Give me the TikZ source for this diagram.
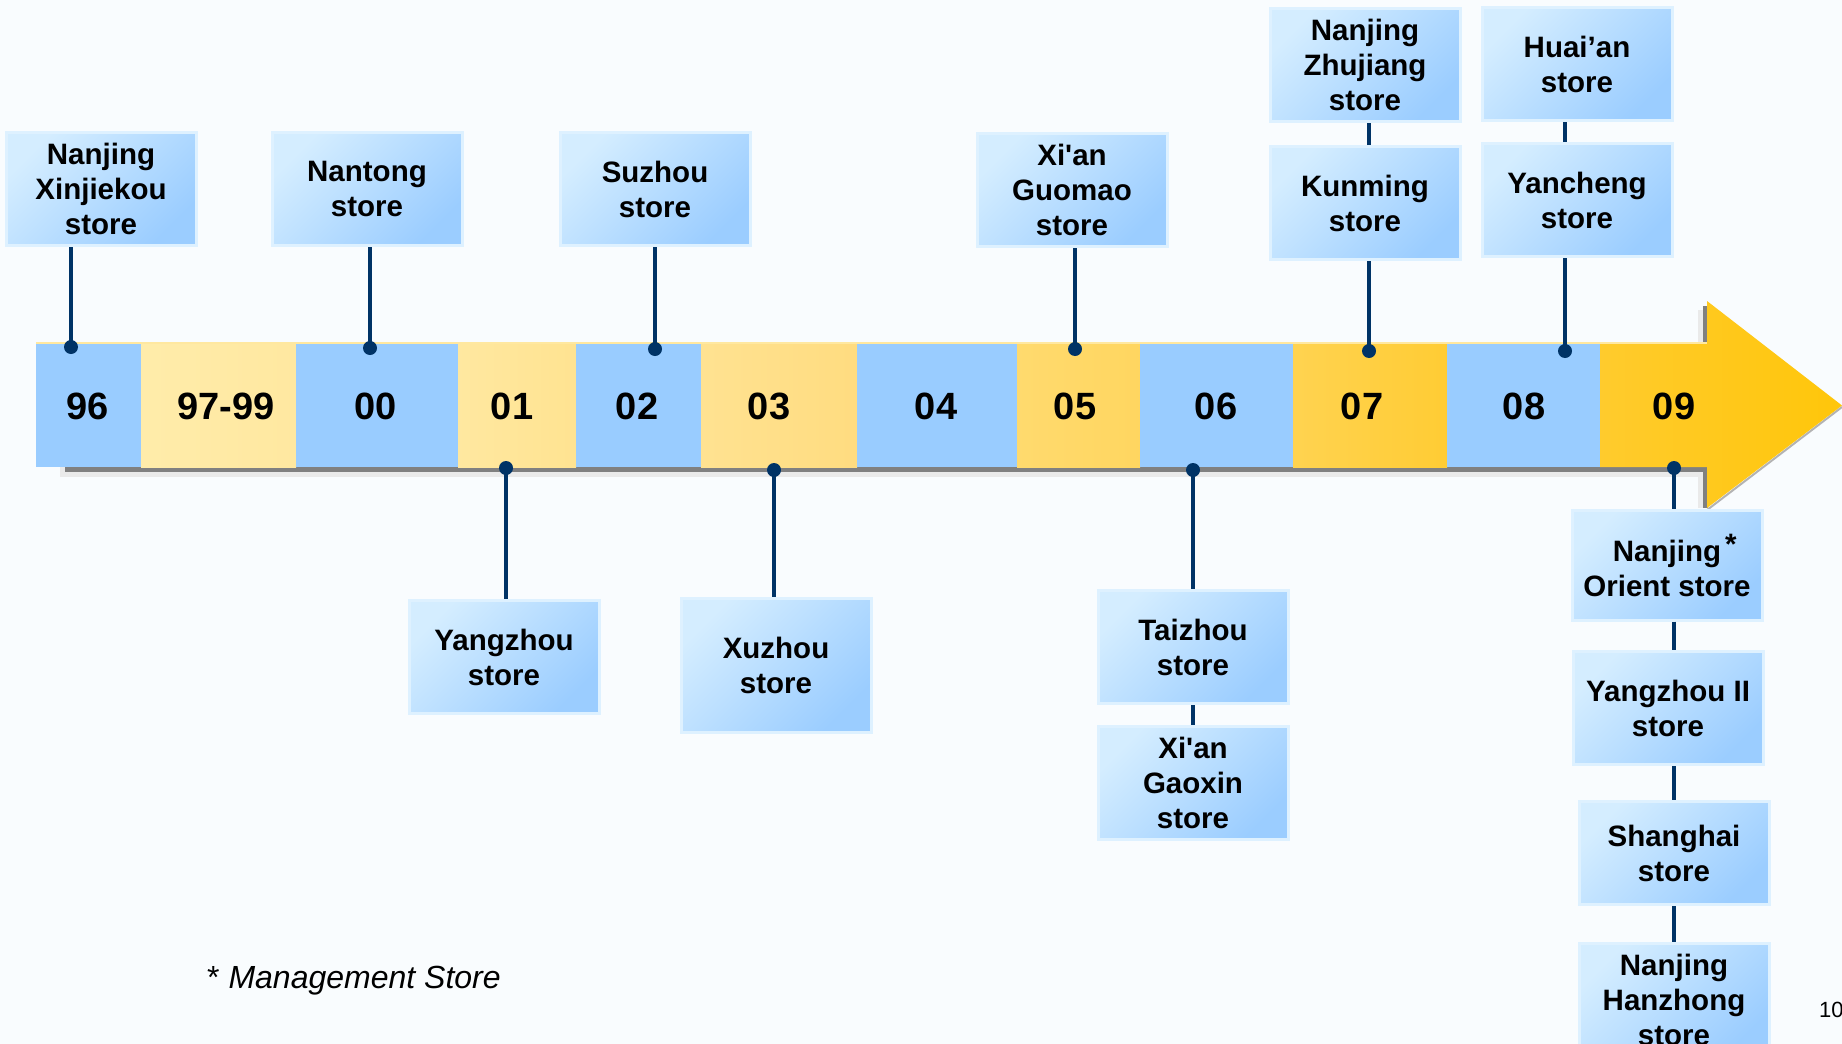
\documentclass[tikz,border=0pt]{standalone}
\usepackage{fontspec}
\newfontfamily\lsans{Liberation Sans}
\definecolor{bg}{RGB}{249,252,254}
\definecolor{segblue}{RGB}{153,204,255}
\definecolor{navy}{RGB}{0,51,102}
\definecolor{boxlight}{RGB}{212,237,255}
\definecolor{boxdark}{RGB}{155,205,255}
\definecolor{boxedge}{RGB}{222,241,255}
\definecolor{shdark}{RGB}{128,128,128}
\definecolor{shlight}{RGB}{234,234,234}
\definecolor{ytop}{RGB}{255,232,160}
\definecolor{yaA}{RGB}{255,236,170}
\definecolor{yaB}{RGB}{255,232,160}
\definecolor{ybA}{RGB}{255,232,160}
\definecolor{ybB}{RGB}{255,227,145}
\definecolor{ycA}{RGB}{255,226,145}
\definecolor{ycB}{RGB}{255,220,128}
\definecolor{ydA}{RGB}{255,218,110}
\definecolor{ydB}{RGB}{255,214,96}
\definecolor{yeA}{RGB}{255,211,80}
\definecolor{yeB}{RGB}{255,204,52}
\definecolor{yfA}{RGB}{255,203,45}
\definecolor{yfB}{RGB}{255,198,10}
\tikzset{
  storebox/.style={draw=boxedge, line width=3pt, top color=boxlight, bottom color=boxdark,
    shading angle=45, minimum width=190pt, minimum height=113pt, inner sep=0pt,
    align=center, font=\lsans\bfseries\fontsize{29.5}{35}\selectfont},
  yearlbl/.style={font=\lsans\bfseries\fontsize{38}{40}\selectfont, inner sep=0pt},
  conn/.style={draw=navy, line width=4pt},
  dotst/.style={fill=navy},
}
\begin{document}
\begin{tikzpicture}[x=1pt,y=-1pt]
\fill[bg] (0,0) rectangle (1842,1044);
\useasboundingbox (0,0) rectangle (1842,1044);
% shadows
\fill[shlight] (60,467) rectangle (1703,477);
\fill[shlight] (1698,310) rectangle (1703,508);
\fill[shdark] (65,467) rectangle (1708,472);
\fill[shdark] (1703,306) rectangle (1708,508);
\draw[shdark!60, line width=2pt] (1707,510) -- (1842,407);
% bar
\fill[ytop] (36,342) rectangle (1707,344);
\fill[segblue] (36,344) rectangle (141,467);
\shade[left color=yaA, right color=yaB] (141,344) rectangle (296,467);
\fill[segblue] (296,344) rectangle (458,467);
\shade[left color=ybA, right color=ybB] (458,344) rectangle (576,467);
\fill[segblue] (576,344) rectangle (701,467);
\shade[left color=ycA, right color=ycB] (701,344) rectangle (857,467);
\fill[segblue] (857,344) rectangle (1017,467);
\shade[left color=ydA, right color=ydB] (1017,344) rectangle (1140,467);
\fill[segblue] (1140,344) rectangle (1293,467);
\shade[left color=yeA, right color=yeB] (1293,344) rectangle (1447,467);
\fill[segblue] (1447,344) rectangle (1600,467);
\shade[left color=yfA, right color=yfB] (1600,344) -- (1707,344) -- (1707,301) -- (1842,405.5)
  -- (1707,508) -- (1707,467) -- (1600,467) -- cycle;
% year labels
\node[yearlbl] (y96) at (88,406) {96};
\node[yearlbl] (y97) at (226,406) {97-99};
\node[yearlbl] (y00) at (376,406) {00};
\node[yearlbl] (y01) at (512,406) {01};
\node[yearlbl] (y02) at (637,406) {02};
\node[yearlbl] (y03) at (769,406) {03};
\node[yearlbl] (y04) at (936,406) {04};
\node[yearlbl] (y05) at (1075,406) {05};
\node[yearlbl] (y06) at (1216,406) {06};
\node[yearlbl] (y07) at (1362,406) {07};
\node[yearlbl] (y08) at (1524,406) {08};
\node[yearlbl] (y09) at (1674,406) {09};
% boxes
\node[storebox] (bXin) at (101,189) {Nanjing\\Xinjiekou\\store};
\node[storebox] (bNan) at (367,189) {Nantong\\store};
\node[storebox] (bSuz) at (655,189) {Suzhou\\store};
\node[storebox] (bGuo) at (1072,190) {Xi'an\\Guomao\\store};
\node[storebox] (bZhu) at (1365,65) {Nanjing\\Zhujiang\\store};
\node[storebox] (bKun) at (1365,203) {Kunming\\store};
\node[storebox] (bHua) at (1577,64) {Huai’an\\store};
\node[storebox] (bYan) at (1577,200) {Yancheng\\store};
\node[storebox] (bYz) at (504,657) {Yangzhou\\store};
\node[storebox, minimum height=134pt] (bXu) at (776,665) {Xuzhou\\store};
\node[storebox] (bTai) at (1193,647) {Taizhou\\store};
\node[storebox] (bGao) at (1193,783) {Xi'an\\Gaoxin\\store};
\node[storebox, minimum height=110pt] (bOri) at (1667,565) {Nanjing\rlap{\hspace{4pt}\raisebox{7pt}{*}}\\Orient store};
\node[storebox] (bYz2) at (1668,708) {Yangzhou II\\store};
\node[storebox, minimum height=103pt] (bSha) at (1674,853) {Shanghai\\store};
\node[storebox] (bHan) at (1674,1000) {Nanjing\\Hanzhong\\store};
% connector anchor points
\coordinate (d96) at (71,347);
\coordinate (d00) at (370,348);
\coordinate (d02) at (655,349);
\coordinate (d05) at (1075,349);
\coordinate (d07) at (1369,351);
\coordinate (d08) at (1565,351);
\coordinate (d01) at (506,468);
\coordinate (d03) at (774,470);
\coordinate (d06) at (1193,470);
\coordinate (d09) at (1674,468);
% connectors
\draw[conn] (d96) -- (d96 |- bXin.south);
\draw[conn] (d00) -- (d00 |- bNan.south);
\draw[conn] (d02) -- (d02 |- bSuz.south);
\draw[conn] (d05) -- (d05 |- bGuo.south);
\draw[conn] (d07) -- (d07 |- bKun.south);
\draw[conn] (d07 |- bKun.north) -- (d07 |- bZhu.south);
\draw[conn] (d08) -- (d08 |- bYan.south);
\draw[conn] (d08 |- bYan.north) -- (d08 |- bHua.south);
\draw[conn] (d01) -- (d01 |- bYz.north);
\draw[conn] (d03) -- (d03 |- bXu.north);
\draw[conn] (d06) -- (d06 |- bTai.north);
\draw[conn] (d06 |- bTai.south) -- (d06 |- bGao.north);
\draw[conn] (d09) -- (d09 |- bOri.north);
\draw[conn] (d09 |- bOri.south) -- (d09 |- bYz2.north);
\draw[conn] (d09 |- bYz2.south) -- (d09 |- bSha.north);
\draw[conn] (d09 |- bSha.south) -- (d09 |- bHan.north);
\foreach \d in {d96,d00,d02,d05,d07,d08,d01,d03,d06,d09}
  \fill[dotst] (\d) circle[radius=7pt];
% footnote and page number
\node[anchor=base west, inner sep=0pt, font=\lsans\fontsize{32}{36}\selectfont] (foot) at (207,988) {* \textit{Management Store}};
\node[anchor=base west, inner sep=0pt, font=\lsans\fontsize{22}{26}\selectfont] (pg) at (1819,1017) {10};
\end{tikzpicture}
\end{document}
